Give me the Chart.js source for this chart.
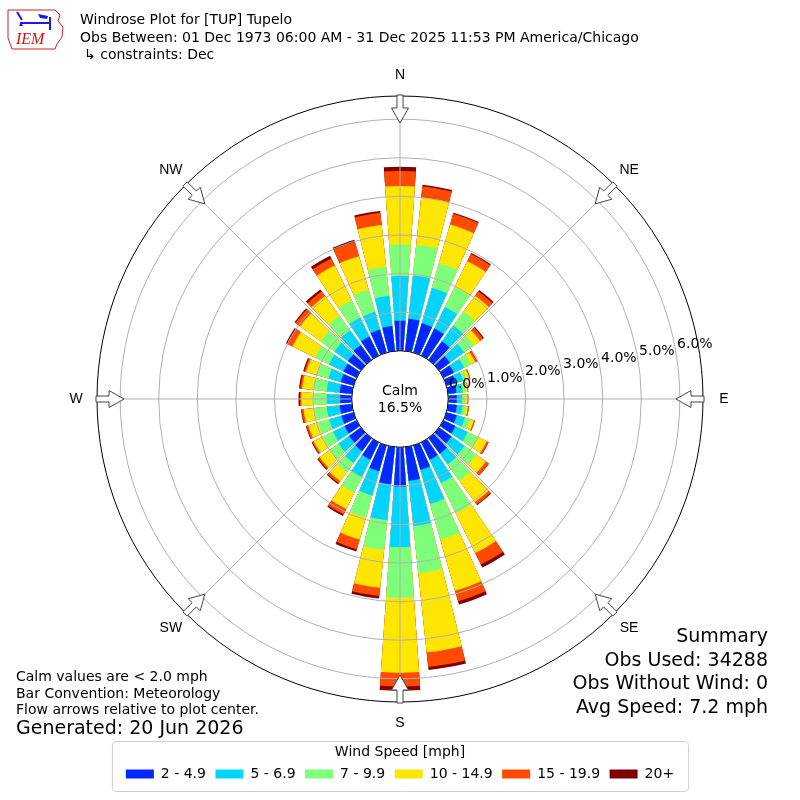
<!DOCTYPE html>
<html>
<head>
<meta charset="utf-8">
<title>Windrose Plot for [TUP] Tupelo</title>
<script src="https://cdn.jsdelivr.net/npm/chart.js@4.4.1/dist/chart.umd.min.js"></script>
<style>
  html, body { margin: 0; padding: 0; background: #fff; }
  #windrose { display: block; }
</style>
</head>
<body>
<canvas id="windrose" width="800" height="800"></canvas>
<script>
// wind direction (deg, the bar points to where the wind comes from)
let directions = [
  0, 10, 20, 30, 40, 50, 60, 70, 80, 90, 100, 110,
  120, 130, 140, 150, 160, 170, 180, 190, 200, 210, 220, 230,
  240, 250, 260, 270, 280, 290, 300, 310, 320, 330, 340, 350,
];

let speedBins = ['2 - 4.9', '5 - 6.9', '7 - 9.9', '10 - 14.9', '15 - 19.9', '20+'];
let speedColors = ['#0028ff', '#00d4ff', '#7dff7a', '#ffe600', '#ff4a00', '#7f0000'];

// frequency (%) of each speed bin per direction
let speed2to5 = [
  0.78, 0.84, 0.79, 0.78, 0.60, 0.35, 0.30, 0.25, 0.22, 0.22, 0.23, 0.28,
  0.35, 0.40, 0.50, 0.50, 0.66, 0.88, 1.02, 0.97, 0.70, 0.50, 0.42, 0.38,
  0.35, 0.33, 0.32, 0.30, 0.32, 0.35, 0.38, 0.42, 0.48, 0.55, 0.62, 0.65,
];
let speed5to7 = [
  1.16, 1.13, 0.96, 0.62, 0.50, 0.46, 0.30, 0.20, 0.16, 0.14, 0.15, 0.22,
  0.35, 0.42, 0.35, 0.67, 0.92, 1.18, 1.57, 0.94, 0.65, 0.50, 0.38, 0.34,
  0.33, 0.33, 0.34, 0.35, 0.34, 0.33, 0.42, 0.43, 0.47, 0.55, 0.48, 0.79,
];
let speed7to10 = [
  0.82, 0.80, 0.66, 0.58, 0.45, 0.31, 0.20, 0.10, 0.08, 0.08, 0.08, 0.14,
  0.30, 0.38, 0.52, 0.88, 0.96, 1.23, 1.31, 0.77, 0.60, 0.45, 0.30, 0.30,
  0.30, 0.31, 0.32, 0.34, 0.34, 0.32, 0.40, 0.45, 0.47, 0.50, 0.60, 0.75,
];
let speed10to15 = [
  1.51, 1.23, 1.04, 0.74, 0.51, 0.19, 0.12, 0.07, 0.05, 0.06, 0.06, 0.10,
  0.25, 0.30, 0.68, 1.14, 1.38, 2.06, 1.94, 0.99, 0.59, 0.47, 0.28, 0.30,
  0.26, 0.25, 0.28, 0.32, 0.30, 0.28, 0.65, 0.65, 0.63, 1.00, 0.90, 1.09,
];
let speed15to20 = [
  0.39, 0.29, 0.29, 0.21, 0.14, 0.10, 0.05, 0.02, 0.02, 0.02, 0.03, 0.03,
  0.05, 0.09, 0.08, 0.33, 0.28, 0.38, 0.36, 0.21, 0.26, 0.16, 0.07, 0.05,
  0.04, 0.05, 0.05, 0.03, 0.05, 0.05, 0.15, 0.15, 0.15, 0.20, 0.38, 0.32,
];
let speed20up = [
  0.11, 0.04, 0.03, 0.03, 0.04, 0.03, 0.01, 0.01, 0.00, 0.00, 0.00, 0.00,
  0.01, 0.01, 0.02, 0.09, 0.09, 0.08, 0.11, 0.07, 0.06, 0.04, 0.03, 0.03,
  0.02, 0.02, 0.02, 0.04, 0.03, 0.03, 0.04, 0.03, 0.06, 0.08, 0.06, 0.05,
];

let compassNames = ['N', 'NE', 'E', 'SE', 'S', 'SW', 'W', 'NW'];
let radialTicks = [0, 1, 2, 3, 4, 5, 6];
let calmPercent = 16.5;

let headerLines = [
  'Windrose Plot for [TUP] Tupelo',
  'Obs Between: 01 Dec 1973 06:00 AM - 31 Dec 2025 11:53 PM America/Chicago',
  '↳ constraints: Dec',
];
let noteLines = [
  'Calm values are < 2.0 mph',
  'Bar Convention: Meteorology',
  'Flow arrows relative to plot center.',
];
let generatedLine = 'Generated: 20 Jun 2026';
let summaryLines = ['Summary', 'Obs Used: 34288', 'Obs Without Wind: 0', 'Avg Speed: 7.2 mph'];

let barWidth = 8; // degrees
let gapWidth = 2;
let scaleMin = -1.25;
let scaleMax = 6.6;

Chart.defaults.font.family = "'DejaVu Sans', sans-serif";
Chart.defaults.color = '#000';

let binValues = [speed2to5, speed5to7, speed7to10, speed10to15, speed15to20, speed20up];

// polar area arcs overlap, so each layer gets the running total (drawn from the outer one in)
let stackedValues = binValues.map((_, b) =>
  directions.map((d, i) => binValues.slice(0, b + 1).reduce((sum, arr) => sum + arr[i], 0))
);

// every direction is followed by an empty slot that makes the white gap between bars
let slotLabels = [];
directions.forEach((d) => {
  slotLabels.push(d + '°');
  slotLabels.push('');
});

let datasets = stackedValues.map((values, b) => ({
  label: speedBins[b],
  data: values.flatMap((v) => [v, 0]),
  backgroundColor: (context) => (context.dataIndex % 2 ? 'rgba(0,0,0,0)' : speedColors[b]),
  borderWidth: 0,
  angle: (context) => (context.dataIndex % 2 ? gapWidth : barWidth),
}));

let drawLogo = (ctx) => {
  ctx.save();
  ctx.strokeStyle = '#cc2222';
  ctx.lineWidth = 1;
  ctx.beginPath();
  [[8, 10], [55, 10], [60, 15], [58, 21], [63, 27], [62, 37], [57, 44], [55, 49], [12, 49], [8, 38]]
    .forEach(([x, y], i) => (i ? ctx.lineTo(x, y) : ctx.moveTo(x, y)));
  ctx.closePath();
  ctx.stroke();

  ctx.strokeStyle = '#1a1aee';
  ctx.fillStyle = '#1a1aee';
  ctx.lineWidth = 2;
  ctx.beginPath();
  ctx.moveTo(20, 23);
  ctx.lineTo(51, 23);
  ctx.moveTo(17, 12);
  ctx.lineTo(22, 20);
  ctx.moveTo(50, 17);
  ctx.lineTo(50, 30);
  ctx.stroke();
  ctx.beginPath();
  ctx.moveTo(38, 14);
  ctx.lineTo(48, 16);
  ctx.lineTo(47, 19);
  ctx.lineTo(40, 18);
  ctx.closePath();
  ctx.fill();
  ctx.beginPath();
  ctx.moveTo(19, 26);
  ctx.lineTo(21, 22);
  ctx.lineTo(23, 26);
  ctx.closePath();
  ctx.fill();

  ctx.fillStyle = '#d01010';
  ctx.font = "italic 16px 'Liberation Serif', serif";
  ctx.textAlign = 'left';
  ctx.textBaseline = 'alphabetic';
  ctx.fillText('IEM', 16, 44);
  ctx.restore();
};

let windroseDecor = {
  id: 'windroseDecor',
  afterDraw(chart) {
    let { ctx } = chart;
    let scale = chart.scales.r;
    let cx = scale.xCenter;
    let cy = scale.yCenter;
    let calmR = scale.getDistanceFromCenterForValue(0);
    let outerR = scale.drawingArea;

    ctx.save();

    // spokes every 45 degrees
    ctx.strokeStyle = '#b0b0b0';
    ctx.lineWidth = 1;
    compassNames.forEach((name, i) => {
      let a = (i * 45 * Math.PI) / 180;
      ctx.beginPath();
      ctx.moveTo(cx + calmR * Math.sin(a), cy - calmR * Math.cos(a));
      ctx.lineTo(cx + outerR * Math.sin(a), cy - outerR * Math.cos(a));
      ctx.stroke();
    });

    // calm circle
    ctx.beginPath();
    ctx.arc(cx, cy, calmR, 0, Math.PI * 2);
    ctx.fillStyle = '#fff';
    ctx.fill();
    ctx.strokeStyle = '#000';
    ctx.lineWidth = 1;
    ctx.stroke();

    ctx.fillStyle = '#000';
    ctx.font = "14px 'DejaVu Sans'";
    ctx.textAlign = 'center';
    ctx.textBaseline = 'alphabetic';
    ctx.fillText('Calm', cx, cy - 4);
    ctx.fillText(calmPercent.toFixed(1) + '%', cx, cy + 13);

    // radial labels
    let labelAngle = (10 * Math.PI) / 180;
    ctx.textAlign = 'left';
    radialTicks.forEach((v) => {
      let r = scale.getDistanceFromCenterForValue(v);
      ctx.fillText(v.toFixed(1) + '%', cx + r * Math.cos(labelAngle) + 1.5, cy - r * Math.sin(labelAngle) - 2.3);
    });

    // flow arrows and compass names
    compassNames.forEach((name, i) => {
      let a = (i * 45 * Math.PI) / 180;
      let ux = Math.sin(a);
      let uy = -Math.cos(a);
      let vx = Math.cos(a);
      let vy = Math.sin(a);
      let tipR = outerR - 27;
      let shape = [[0, 0], [15, 8.5], [15, 3], [28, 3], [28, -3], [15, -3], [15, -8.5]];
      ctx.beginPath();
      shape.forEach(([t, w], k) => {
        let x = cx + (tipR + t) * ux + w * vx;
        let y = cy + (tipR + t) * uy + w * vy;
        if (k) ctx.lineTo(x, y);
        else ctx.moveTo(x, y);
      });
      ctx.closePath();
      ctx.fillStyle = '#fff';
      ctx.fill();
      ctx.strokeStyle = '#444';
      ctx.lineWidth = 1;
      ctx.stroke();

      ctx.fillStyle = '#000';
      ctx.font = "14px 'Liberation Sans', Arial, sans-serif";
      ctx.textAlign = 'center';
      ctx.textBaseline = 'middle';
      ctx.fillText(name, cx + (outerR + 21) * ux, cy + (outerR + 21) * uy);
    });

    // legend frame
    let legend = chart.legend;
    let hitBoxes = legend.legendHitBoxes;
    if (hitBoxes && hitBoxes.length) {
      let first = hitBoxes[0];
      let last = hitBoxes[hitBoxes.length - 1];
      let mid = (first.left + last.left + last.width) / 2;
      let half = (last.left + last.width - first.left) / 2 + 14;
      let top = legend.top + 39;
      let bottom = legend.top + 89;
      ctx.beginPath();
      ctx.roundRect(mid - half + 0.5, top + 0.5, half * 2, bottom - top, 4);
      ctx.strokeStyle = '#cccccc';
      ctx.lineWidth = 1;
      ctx.stroke();
    }

    // header
    drawLogo(ctx);
    ctx.fillStyle = '#000';
    ctx.font = "14px 'DejaVu Sans'";
    ctx.textAlign = 'left';
    ctx.textBaseline = 'alphabetic';
    ctx.fillText(headerLines[0], 80, 23.5);
    ctx.fillText(headerLines[1], 80, 42);
    ctx.fillText(headerLines[2], 84, 59);

    // notes, bottom left
    noteLines.forEach((line, i) => ctx.fillText(line, 16, 681 + i * 16.7));
    ctx.font = "19px 'DejaVu Sans'";
    ctx.fillText(generatedLine, 16, 734);

    // summary, bottom right
    ctx.textAlign = 'right';
    summaryLines.forEach((line, i) => ctx.fillText(line, 768, 642 + i * 23.5));

    ctx.restore();
  },
};

new Chart(document.getElementById('windrose'), {
  type: 'polarArea',
  data: {
    labels: slotLabels,
    datasets: datasets,
  },
  options: {
    responsive: false,
    animation: false,
    devicePixelRatio: 1,
    layout: {
      padding: { top: 96, bottom: 9, left: 0, right: 0 },
    },
    scales: {
      r: {
        min: scaleMin,
        max: scaleMax,
        startAngle: -barWidth / 2,
        afterBuildTicks: (axis) => {
          axis.ticks = radialTicks.concat([scaleMax]).map((v) => ({ value: v }));
        },
        ticks: { display: false },
        angleLines: { display: false },
        pointLabels: { display: false },
        grid: {
          z: 1,
          circular: true,
          lineWidth: 1,
          color: (context) => (context.tick && context.tick.value === scaleMax ? '#000' : '#b0b0b0'),
        },
      },
    },
    plugins: {
      tooltip: { enabled: false },
      title: { display: false },
      legend: {
        display: true,
        position: 'bottom',
        title: {
          display: true,
          text: 'Wind Speed [mph]',
          color: '#000',
          font: { size: 14 },
          padding: { top: 43, bottom: -4.3 },
        },
        labels: {
          boxWidth: 28,
          boxHeight: 9,
          padding: 9.5,
          color: '#000',
          font: { size: 14 },
          generateLabels: (chart) =>
            chart.data.datasets.map((ds, i) => ({
              text: ds.label,
              fillStyle: speedColors[i],
              strokeStyle: speedColors[i],
              lineWidth: 0,
              hidden: false,
              datasetIndex: i,
            })),
        },
      },
    },
  },
  plugins: [windroseDecor],
});
</script>
</body>
</html>
